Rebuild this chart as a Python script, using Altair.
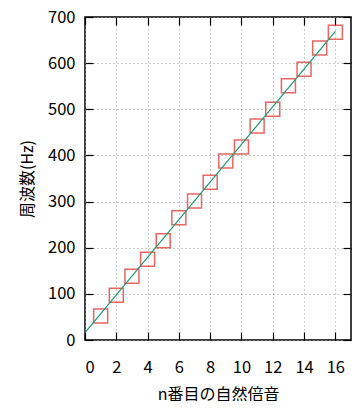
import altair as alt
import pandas as pd

harmonic_n = list(range(1, 17))
freq_hz = [52, 97, 138, 175, 215, 265, 301, 342, 388, 418, 464, 500, 551, 587, 633, 667]
fit_x = [0, 16]
fit_y = [16, 669]
x_ticks = [0, 2, 4, 6, 8, 10, 12, 14, 16]
y_ticks = [0, 100, 200, 300, 400, 500, 600, 700]

pts = pd.DataFrame({"n": harmonic_n, "f": freq_hz})
fit = pd.DataFrame({"n": fit_x, "f": fit_y})

FONT = "Noto Sans CJK JP"
xs = alt.Scale(domain=[0, 17], nice=False, zero=False)
ys = alt.Scale(domain=[0, 700], nice=False, zero=False)

grid_kw = dict(grid=True, gridColor="#999999", gridDash=[1, 3], gridWidth=1)

x_label_axis = alt.Axis(values=x_ticks, ticks=False, domain=False, labelFont=FONT,
                        labelFontSize=16.5, labelColor="#000", labelPadding=19,
                        title="n番目の自然倍音", titleFont=FONT, titleFontSize=16,
                        titleFontWeight="normal", titleColor="#000", titlePadding=11,
                        **grid_kw)
y_label_axis = alt.Axis(values=y_ticks, ticks=False, domain=False, labelFont=FONT,
                        labelFontSize=16.5, labelColor="#000", labelPadding=10,
                        title="周波数(Hz)", titleFont=FONT, titleFontSize=16,
                        titleFontWeight="normal", titleColor="#000", titlePadding=12,
                        **grid_kw)

def tick_axis(orient, vals):
    return alt.Axis(orient=orient, values=vals, labels=False, domain=False, grid=False,
                    ticks=True, tickSize=8, tickColor="#000", tickWidth=1.2,
                    offset=-8, title=None)

points = alt.Chart(pts).mark_square(filled=False, size=196, color="#e2261e",
                                    strokeWidth=1.5).encode(
    x=alt.X("n:Q", scale=xs, axis=x_label_axis),
    y=alt.Y("f:Q", scale=ys, axis=y_label_axis),
)

line = alt.Chart(fit).mark_line(color="#1d9e76", strokeWidth=1.2).encode(
    x=alt.X("n:Q", scale=xs, axis=tick_axis("bottom", x_ticks)),
    y=alt.Y("f:Q", scale=ys, axis=tick_axis("left", y_ticks)),
)

mirror = alt.Chart(fit).mark_line(opacity=0).encode(
    x=alt.X("n:Q", scale=xs, axis=tick_axis("top", x_ticks)),
    y=alt.Y("f:Q", scale=ys, axis=tick_axis("right", y_ticks)),
)

chart = alt.layer(points, line, mirror).resolve_axis(
    x="independent", y="independent"
).properties(
    width=266, height=323,
    autosize=alt.AutoSizeParams(type="none"),
    padding={"left": 77, "top": 9, "right": 1, "bottom": 61},
    background="white",
).configure_view(stroke="#000", strokeWidth=1.5)

chart.save("out.html", embed_options={"renderer": "svg", "actions": False})
